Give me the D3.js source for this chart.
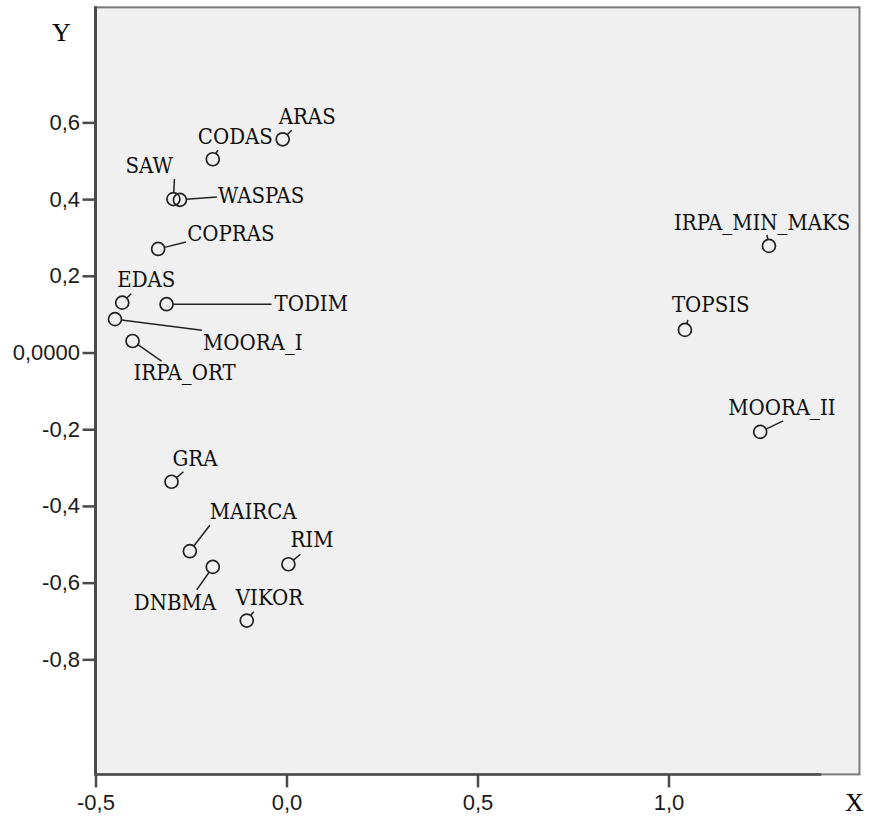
<!DOCTYPE html>
<html>
<head>
	<meta charset="utf-8">
	<script type="text/javascript" src="https://cdn.jsdelivr.net/npm/d3@7"></script>
	<style>
		body { margin: 0; background: #fff; }
	</style>
</head>
<body>
	<script type="text/javascript">

		// data
		var names = ["ARAS", "CODAS", "SAW", "WASPAS", "COPRAS", "EDAS", "TODIM", "MOORA_I", "IRPA_ORT",
			"GRA", "MAIRCA", "DNBMA", "RIM", "VIKOR", "IRPA_MIN_MAKS", "TOPSIS", "MOORA_II"];
		var xValues = [-0.010, -0.193, -0.296, -0.279, -0.336, -0.430, -0.314, -0.449, -0.403,
			-0.301, -0.253, -0.193, 0.005, -0.104, 1.263, 1.043, 1.240];
		var yValues = [0.556, 0.504, 0.400, 0.398, 0.270, 0.130, 0.126, 0.087, 0.030,
			-0.337, -0.518, -0.559, -0.552, -0.699, 0.278, 0.059, -0.207];
		var xTicks = [-0.5, 0, 0.5, 1.0];
		var yTicks = [-0.8, -0.6, -0.4, -0.2, 0, 0.2, 0.4, 0.6];

		// label placement (offset of label / leader end from the point, in px)
		var labelOffsets = [
			[-4, -15, 9, -9], [-15, -15, 5, -9], [-48, -26, 1, -20], [38, 3, 37, -3],
			[29, -8, 28, -7], [-5, -16, 9, -9], [108, 7, 105, 0], [88, 31, 87, 11],
			[1, 39, 29, 20], [1, -16, 12, -10], [20, -32, 20, -26], [-79, 43, -16, 23],
			[2, -17, 12, -10], [-11, -16, 7, -9], [-95, -16, -2, -11], [-13, -18, 3, -10],
			[-32, -17, 23, -11]
		];

		var points = names.map(function(n, i) {
			return {name: n, x: xValues[i], y: yValues[i], off: labelOffsets[i]};
		});

		var width = 874, height = 816;
		var plotLeft = 95.5, plotRight = 859.5, plotTop = 7.35, plotBottom = 774.4;

		var xScale = d3.scaleLinear().domain([-0.5, 1.5]).range([plotLeft, plotRight]);
		var yScale = d3.scaleLinear().domain([-1.1, 0.9]).range([plotBottom, plotTop]);

		var loc = d3.formatLocale({decimal: ",", thousands: ".", grouping: [3], currency: ["", ""], minus: "-"});
		var f1 = loc.format(".1f");

		var svg = d3.select('body')
			.append('svg')
			.attr('width', width)
			.attr('height', height);

		// plot frame
		svg.append('rect')
			.attr('x', plotLeft)
			.attr('y', plotTop)
			.attr('width', plotRight - plotLeft)
			.attr('height', plotBottom - plotTop)
			.attr('fill', '#f0f0f0')
			.attr('stroke', '#7a7a7a')
			.attr('stroke-width', 2);

		svg.append('clipPath').attr('id', 'plot')
			.append('rect')
			.attr('x', plotLeft).attr('y', plotTop)
			.attr('width', plotRight - plotLeft).attr('height', plotBottom - plotTop);

		// axes
		svg.append('g')
			.attr('class', 'y-axis')
			.attr('transform', 'translate(' + plotLeft + ',0)')
			.call(d3.axisLeft(yScale).tickValues(yTicks).tickSize(13).tickSizeOuter(0).tickPadding(2.5)
				.tickFormat(function(d) { return d === 0 ? "0,0000" : f1(d); }));

		svg.append('g')
			.attr('class', 'x-axis')
			.attr('transform', 'translate(0,' + plotBottom + ')')
			.call(d3.axisBottom(xScale).tickValues(xTicks).tickSize(13).tickSizeOuter(0).tickPadding(7)
				.tickFormat(f1));

		svg.selectAll('.domain').remove();
		svg.selectAll('.tick line').attr('stroke', '#4a4a4a').attr('stroke-width', 2.5);
		svg.selectAll('.tick text')
			.attr('fill', '#1a1a1a')
			.style('font-family', '"Liberation Sans", Arial, sans-serif')
			.style('font-size', '22px');

		svg.append('line')
			.attr('x1', plotLeft).attr('x2', plotLeft)
			.attr('y1', plotTop - 1).attr('y2', plotBottom + 1)
			.attr('stroke', '#4a4a4a').attr('stroke-width', 3);
		svg.append('line')
			.attr('x1', plotLeft).attr('x2', xScale(1.4))
			.attr('y1', plotBottom).attr('y2', plotBottom)
			.attr('stroke', '#4a4a4a').attr('stroke-width', 2.5);

		// axis titles
		svg.append('text')
			.attr('x', 52)
			.attr('y', 41)
			.style('font-family', '"Liberation Serif", "Times New Roman", serif')
			.style('font-size', '26px')
			.text('Y');
		svg.append('text')
			.attr('x', 845)
			.attr('y', 811)
			.style('font-family', '"Liberation Serif", "Times New Roman", serif')
			.style('font-size', '26px')
			.text('X');

		// points, leaders, labels
		var r = 6.5;
		var g = svg.append('g').attr('clip-path', 'url(#plot)');

		g.selectAll('line.leader')
			.data(points)
			.enter()
			.append('line')
			.attr('class', 'leader')
			.attr('x1', function(d) {
				var len = Math.hypot(d.off[2], d.off[3]);
				return xScale(d.x) + d.off[2] / len * r;
			})
			.attr('y1', function(d) {
				var len = Math.hypot(d.off[2], d.off[3]);
				return yScale(d.y) + d.off[3] / len * r;
			})
			.attr('x2', function(d) { return xScale(d.x) + d.off[2]; })
			.attr('y2', function(d) { return yScale(d.y) + d.off[3]; })
			.attr('stroke', '#222')
			.attr('stroke-width', 1.5);

		g.selectAll('circle')
			.data(points)
			.enter()
			.append('circle')
			.attr('cx', function(d) { return xScale(d.x); })
			.attr('cy', function(d) { return yScale(d.y); })
			.attr('r', r)
			.attr('fill', 'none')
			.attr('stroke', '#222')
			.attr('stroke-width', 1.7);

		g.selectAll('text.lbl')
			.data(points)
			.enter()
			.append('text')
			.attr('class', 'lbl')
			.attr('x', function(d) { return xScale(d.x) + d.off[0]; })
			.attr('y', function(d) { return yScale(d.y) + d.off[1]; })
			.attr('fill', '#111')
			.style('font-family', '"DejaVu Serif Condensed", "DejaVu Serif", serif')
			.style('font-stretch', 'condensed')
			.style('font-size', '22px')
			.text(function(d) { return d.name; });

	</script>
</body>
</html>
